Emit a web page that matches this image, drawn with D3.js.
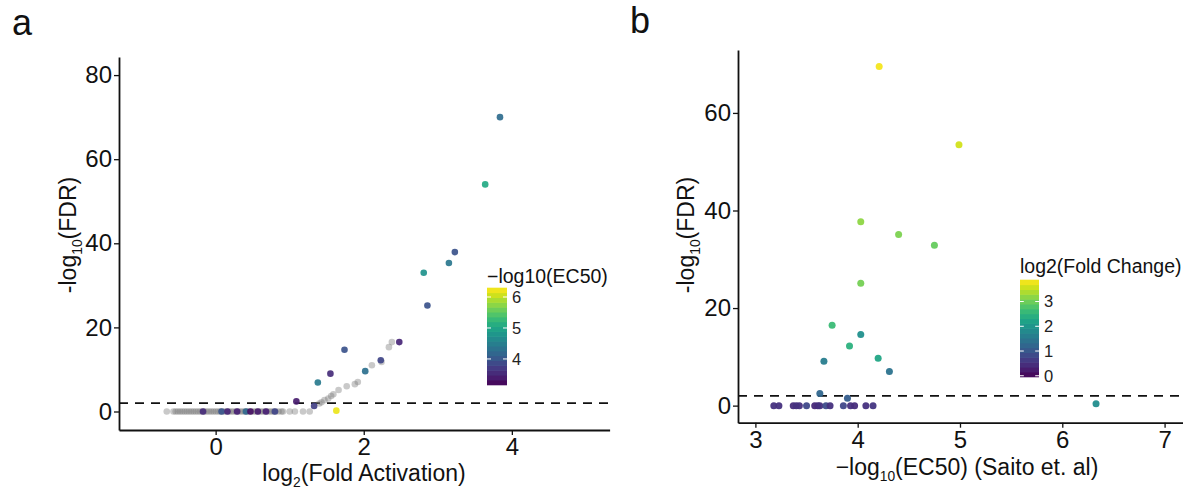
<!DOCTYPE html>
<html><head><meta charset="utf-8">
<script src="https://cdn.jsdelivr.net/npm/d3@7"></script>
<style>
html,body{margin:0;padding:0;background:#fff;}
svg{display:block;font-family:"Liberation Sans",Arial,Helvetica,sans-serif;}
</style></head><body>
<svg id="chart" width="1183" height="490"></svg>
<script>
// ---------- Panel a data ----------
const aGrayX = [-0.66,-0.57,-0.54,-0.51,-0.48,-0.45,-0.42,-0.39,-0.36,-0.33,-0.30,-0.27,-0.24,-0.21,-0.18,-0.15,-0.12,-0.09,-0.06,-0.03,0.00,0.03,0.06,0.09,0.12,0.15,0.18,0.21,0.24,0.27,0.30,0.33,0.36,0.39,0.42,0.45,0.48,0.51,0.54,0.57,0.60,0.63,0.66,0.69,0.72,0.75,0.78,0.81,0.85,0.89,0.91,1.00,1.07,1.18,1.27,
  1.40,1.43,1.47,1.52,1.56,1.59,1.66,1.77,1.88,1.92,2.11,2.24,2.34,2.38];
const aGrayY = [0,0,0,0,0,0,0,0,0,0,0,0,0,0,0,0,0,0,0,0,0,0,0,0,0,0,0,0,0,0,0,0,0,0,0,0,0,0,0,0,0,0,0,0,0,0,0,0,0,0,0,0,0,0,0,
  1.9,2.2,2.7,3.1,3.7,4.1,5.1,6.0,6.5,7.0,11.0,11.8,15.3,16.5];
const aColX = [3.84,3.64,3.23,3.15,2.81,2.86,2.48,2.23,2.02,1.74,1.55,1.38,1.09,1.33,1.63,
  -0.17,0.08,0.16,0.29,0.41,0.47,0.57,0.68,0.80];
const aColY = [70.0,54.0,37.9,35.3,33.0,25.2,16.5,12.2,9.6,14.7,9.0,6.9,2.4,1.3,0.2,
  0,0,0,0,0,0,0,0,0];
const aColEC50 = [4.25,5.05,3.95,4.4,4.75,3.95,3.5,3.8,4.3,3.95,3.55,4.45,3.4,3.75,6.2,
  3.55,4.0,3.5,3.45,4.2,3.3,3.4,3.45,3.8];
const aXTicks = [0,2,4];
const aYTicks = [0,20,40,60,80];
const aLegTicks = [4,5,6];

// ---------- Panel b data ----------
const bX = [4.21,4.99,4.03,4.40,4.75,4.03,3.75,4.03,3.92,3.67,4.20,4.31,3.63,3.90,6.33,
  3.18,3.23,3.37,3.40,3.43,3.50,3.58,3.61,3.63,3.69,3.73,3.86,3.93,3.97,4.08,4.15];
const bY = [69.5,53.5,37.7,35.1,32.9,25.1,16.5,14.6,12.2,9.1,9.7,7.0,2.5,1.5,0.4,
  0,0,0,0,0,0,0,0,0,0,0,0,0,0,0,0];
const bFC = [3.8,3.6,3.2,3.1,2.95,3.05,2.6,1.9,2.45,1.6,2.25,1.45,1.25,1.1,1.85,
  0.5,0.5,0.45,0.5,0.5,0.8,0.4,0.45,0.5,0.85,0.5,0.8,0.5,0.45,0.5,0.55];
const bXTicks = [3,4,5,6,7];
const bYTicks = [0,20,40,60];
const bLegTicks = [0,1,2,3];

const fdrThreshold = 2;

const svg = d3.select("#chart");
const FONT = 24;   // tick labels
const TFONT = 23;  // axis titles

function sub(textSel, parts, size){
  parts.forEach(([t,isSub],i)=>{
    const ts = textSel.append("tspan").text(t);
    if(isSub){ ts.attr("font-size", size*0.6).attr("dy", size*0.28); }
    else if(i>0 && parts[i-1][1]){ ts.attr("dy", -size*0.28); }
  });
}

function drawAxes(g, x, y, xt, yt){
  const ax = g.append("g").attr("transform",`translate(0,${y.range()[0]})`)
    .call(d3.axisBottom(x).tickValues(xt).tickFormat(d3.format("d")).tickSize(5).tickSizeOuter(0).tickPadding(3));
  const ay = g.append("g").attr("transform",`translate(${x.range()[0]},0)`)
    .call(d3.axisLeft(y).tickValues(yt).tickFormat(d3.format("d")).tickSize(5).tickSizeOuter(0).tickPadding(2));
  [ax,ay].forEach(a=>{
    a.selectAll("text").attr("font-size",FONT).attr("fill","#111").attr("font-family","Liberation Sans, Arial, sans-serif");
    a.selectAll("line").attr("stroke","#111").attr("stroke-width",1.3);
    a.select(".domain").attr("stroke","#111").attr("stroke-width",1.8);
  });
}

function colorbar(g, cscale, x0, y0, y1, w, ticks, title, titleY){
  const d = cscale.domain();
  const ys = d3.scaleLinear().domain(d).range([y1, y0]);
  const nbin = 20;
  const bins = d3.range(nbin).map(i=>d[0]+(d[1]-d[0])*(i+0.5)/nbin);
  const bh = (y1-y0)/nbin;
  g.selectAll(null).data(bins).enter().append("rect")
    .attr("x",x0).attr("width",w)
    .attr("y",v=>ys(v)-bh/2-0.3).attr("height",bh+0.6)
    .attr("fill",v=>cscale(v));
  ticks.forEach(t=>{
    g.append("line").attr("x1",x0).attr("x2",x0+w*0.2).attr("y1",ys(t)).attr("y2",ys(t)).attr("stroke","#fff").attr("stroke-width",1);
    g.append("line").attr("x1",x0+w*0.8).attr("x2",x0+w).attr("y1",ys(t)).attr("y2",ys(t)).attr("stroke","#fff").attr("stroke-width",1);
    g.append("text").attr("x",x0+w+5).attr("y",ys(t)).attr("dy","0.36em")
      .attr("font-size",16.5).attr("fill","#222").text(t);
  });
  g.append("text").attr("x",x0).attr("y",titleY).attr("font-size",19.5).attr("fill","#111").text(title);
}

// ================= Panel a =================
{
  const x = d3.scaleLinear().domain([-1.305,5.32]).range([119,609.6]);
  const y = d3.scaleLinear().domain([-4.4,84.3]).range([430,57]);
  const c = d3.scaleSequential(d3.interpolateViridis).domain([3.16,6.29]);
  const g = svg.append("g");

  g.append("line").attr("x1",x.range()[0]).attr("x2",x.range()[1])
    .attr("y1",y(fdrThreshold)).attr("y2",y(fdrThreshold))
    .attr("stroke","#111").attr("stroke-width",1.6).attr("stroke-dasharray","9,7");

  g.selectAll(null).data(d3.range(aGrayX.length)).enter().append("circle")
    .attr("cx",i=>x(aGrayX[i])).attr("cy",i=>y(aGrayY[i])).attr("r",3.3)
    .attr("fill","#787878").attr("fill-opacity",0.4);
  g.selectAll(null).data(d3.range(aColX.length)).enter().append("circle")
    .attr("cx",i=>x(aColX[i])).attr("cy",i=>y(aColY[i])).attr("r",3.3)
    .attr("fill",i=>c(aColEC50[i])).attr("fill-opacity",0.92);

  drawAxes(g,x,y,aXTicks,aYTicks);

  const xl = g.append("text").attr("x",364).attr("y",481).attr("text-anchor","middle").attr("font-size",TFONT).attr("fill","#111");
  sub(xl,[["log",false],["2",true],["(Fold Activation)",false]],TFONT);
  const yl = g.append("text").attr("transform","translate(76,235) rotate(-90)").attr("text-anchor","middle").attr("font-size",TFONT).attr("fill","#111");
  sub(yl,[["-log",false],["10",true],["(FDR)",false]],TFONT);

  colorbar(g,c,487,288,385,20,aLegTicks,"\u2212log10(EC50)",283);

  svg.append("text").attr("x",12).attr("y",35).attr("font-size",36).attr("fill","#111").text("a");
}

// ================= Panel b =================
{
  const x = d3.scaleLinear().domain([2.83,7.18]).range([738,1183]);
  const y = d3.scaleLinear().domain([-3.5,72.9]).range([422.7,50]);
  const c = d3.scaleSequential(d3.interpolateViridis).domain([-0.05,3.87]);
  const g = svg.append("g");

  g.append("line").attr("x1",738).attr("x2",1183)
    .attr("y1",y(fdrThreshold)).attr("y2",y(fdrThreshold))
    .attr("stroke","#111").attr("stroke-width",1.6).attr("stroke-dasharray","9,7");

  g.selectAll(null).data(d3.range(bX.length)).enter().append("circle")
    .attr("cx",i=>x(bX[i])).attr("cy",i=>y(bY[i])).attr("r",3.5)
    .attr("fill",i=>c(bFC[i])).attr("fill-opacity",0.95);

  drawAxes(g,x,y,bXTicks,bYTicks);

  const xl = g.append("text").attr("x",967).attr("y",475).attr("text-anchor","middle").attr("font-size",TFONT).attr("fill","#111");
  sub(xl,[["\u2212log",false],["10",true],["(EC50) (Saito et. al)",false]],TFONT);
  const yl = g.append("text").attr("transform","translate(694,235) rotate(-90)").attr("text-anchor","middle").attr("font-size",TFONT).attr("fill","#111");
  sub(yl,[["-log",false],["10",true],["(FDR)",false]],TFONT);

  colorbar(g,c,1020,280,377,19,bLegTicks,"log2(Fold Change)",273);

  svg.append("text").attr("x",630).attr("y",33).attr("font-size",36).attr("fill","#111").text("b");
}
</script>
</body></html>
